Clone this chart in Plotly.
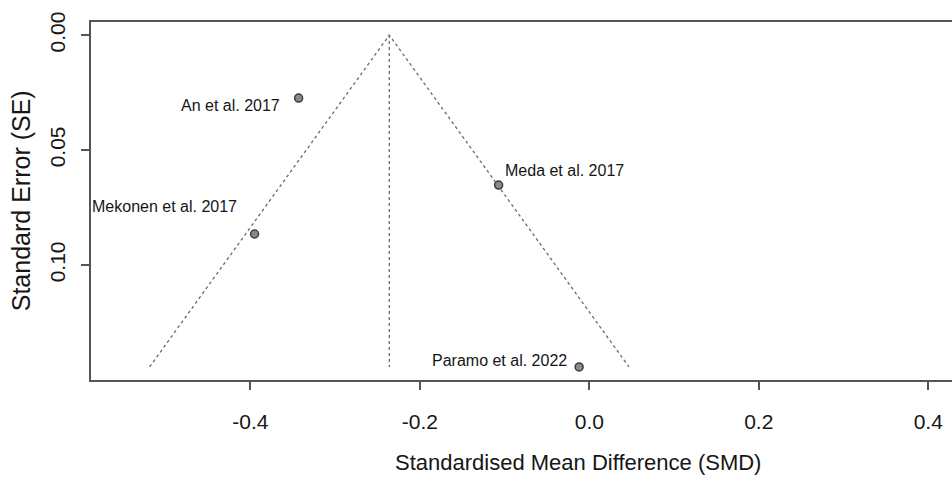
import plotly.graph_objects as go

# Study-level effect sizes and their standard errors
studies = ["An et al. 2017", "Mekonen et al. 2017", "Meda et al. 2017", "Paramo et al. 2022"]
smd = [-0.343, -0.395, -0.107, -0.012]
se = [0.0274, 0.0865, 0.0652, 0.1443]

# Pooled estimate (centre of the funnel)
pooled = -0.236

x_ticks = [-0.4, -0.2, 0.0, 0.2, 0.4]
x_tick_text = ["-0.4", "-0.2", "0.0", "0.2", "0.4"]
y_ticks = [0.00, 0.05, 0.10]
y_tick_text = ["0.00", "0.05", "0.10"]

# Funnel limits: pooled +/- 1.96 * SE, from SE = 0 down to the largest SE
se_max = max(se)
funnel_x = [pooled - 1.96 * se_max, pooled, pooled + 1.96 * se_max]
funnel_y = [se_max, 0.0, se_max]

FONT = "Liberation Sans, Arial, sans-serif"
line_col = "#555555"
dot_col = "#6a6a6a"
text_col = "#161616"

fig = go.Figure()

fig.add_trace(go.Scatter(
    x=funnel_x, y=funnel_y, mode="lines",
    line=dict(color=dot_col, width=1.3, dash="dot"),
    hoverinfo="skip", showlegend=False,
))
fig.add_trace(go.Scatter(
    x=[pooled, pooled], y=[0.0, se_max], mode="lines",
    line=dict(color=dot_col, width=1.3, dash="dot"),
    hoverinfo="skip", showlegend=False,
))
fig.add_trace(go.Scatter(
    x=smd, y=se, mode="markers", text=studies,
    marker=dict(size=8, color="#8a8a8a", line=dict(color="#3c3c3c", width=1.5)),
    showlegend=False,
))

# Study labels beside each point
label_style = [
    # (xanchor, xshift, yshift)
    ("right", -17, -7),
    ("right", -16, 27),
    ("left", 4, 15),
    ("right", -10, 6),
]
for name, xv, yv, (anc, dx, dy) in zip(studies, smd, se, label_style):
    fig.add_annotation(
        x=xv, y=yv, xref="x", yref="y", text=name, showarrow=False,
        xanchor=anc, yanchor="middle", xshift=dx, yshift=dy,
        font=dict(family=FONT, size=16, color=text_col),
    )

# Axis titles
fig.add_annotation(
    x=0.566, y=-0.231, xref="paper", yref="paper",
    text="Standardised Mean Difference (SMD)", showarrow=False,
    xanchor="center", yanchor="middle",
    font=dict(family=FONT, size=22, color=text_col),
)
fig.add_annotation(
    x=-0.081, y=0.5, xref="paper", yref="paper",
    text="Standard Error (SE)", showarrow=False, textangle=-90,
    xanchor="center", yanchor="middle",
    font=dict(family=FONT, size=25, color=text_col),
)

fig.update_xaxes(
    range=[-0.588, 0.428], autorange=False,
    tickmode="array", tickvals=x_ticks, ticktext=x_tick_text,
    showgrid=False, zeroline=False,
    showline=True, mirror=True, linecolor=line_col, linewidth=2,
    ticks="outside", ticklen=8, tickwidth=1.5, tickcolor=line_col,
    ticklabelstandoff=14,
    tickfont=dict(family=FONT, size=21, color=text_col),
)
fig.update_yaxes(
    range=[0.1500, -0.0057], autorange=False,
    tickmode="array", tickvals=y_ticks, ticktext=y_tick_text,
    showgrid=False, zeroline=False,
    showline=True, mirror=False, linecolor=line_col, linewidth=2,
    ticks="outside", ticklen=8, tickwidth=1.5, tickcolor=line_col,
    tickangle=-90, ticklabelstandoff=8,
    tickfont=dict(family=FONT, size=21, color=text_col),
)

fig.update_layout(
    width=952, height=482,
    margin=dict(l=91, r=0, t=22, b=102),
    plot_bgcolor="white", paper_bgcolor="white",
    showlegend=False,
)

fig.write_html("out.html")
